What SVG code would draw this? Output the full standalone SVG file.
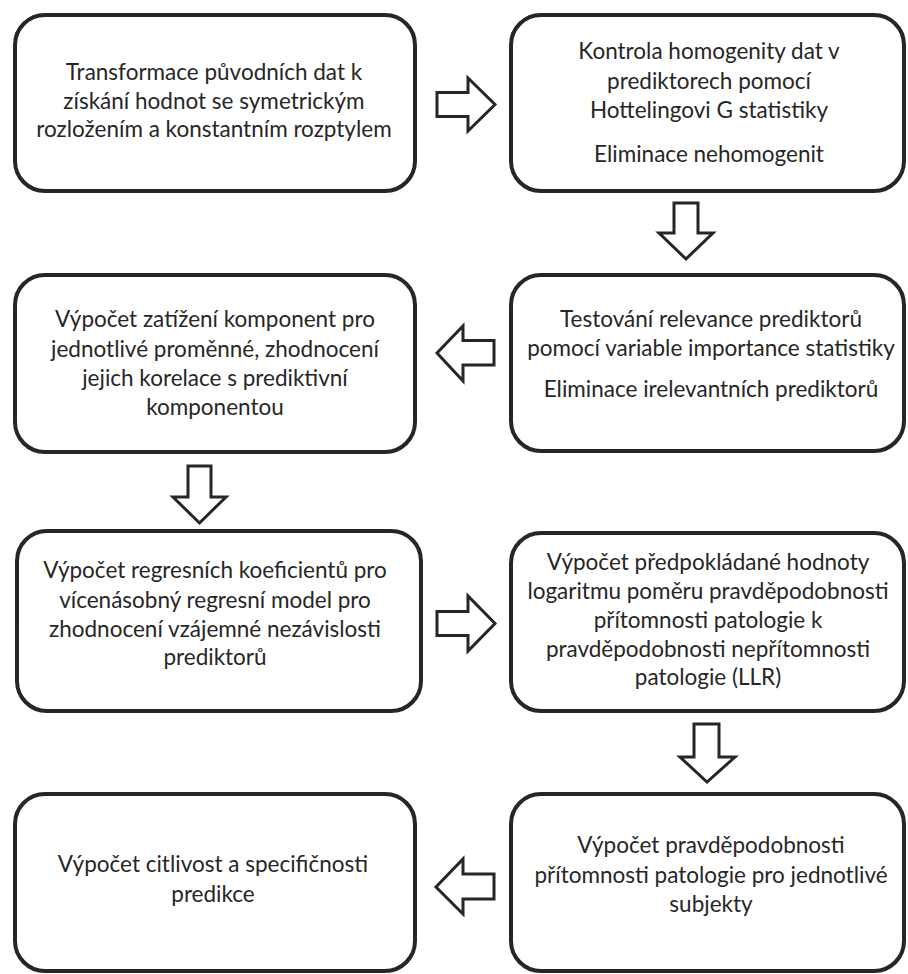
<svg xmlns="http://www.w3.org/2000/svg" width="908" height="974" viewBox="0 0 908 974">
<style>
.box{fill:#fff;stroke:#262626;stroke-width:4}
.arr{fill:#fff;stroke:#262626;stroke-width:3;stroke-linejoin:miter}
text{font-family:Lato,"Liberation Sans",sans-serif;font-size:22.5px;fill:#262626;text-anchor:middle}
</style>
<rect width="908" height="974" fill="#fff"/>
<g id="connectors">
<polygon class="arr" points="437,92.5 468,92.5 468,78 495,104.5 468,131 468,116.5 437,116.5"/>
<polygon class="arr" points="674,203 698,203 698,233 713,233 686,259 659,233 674,233"/>
<polygon class="arr" points="494,340.5 463,340.5 463,326 437,353 463,381 463,365 494,365"/>
<polygon class="arr" points="188,466 211,466 211,497 226,497 199.5,523 173,497 188,497"/>
<polygon class="arr" points="437,611.5 468,611.5 468,596 495,623.5 468,651 468,635.5 437,635.5"/>
<polygon class="arr" points="694,724 719,724 719,757 735,757 707,782 680,757 694,757"/>
<polygon class="arr" points="494,874 463,874 463,859 436,887 463,914 463,899 494,899"/>
</g>
<g id="n1">
<rect class="box" x="15" y="15" width="400" height="176" rx="30"/>
<text x="214" y="80">Transformace původních dat k</text>
<text x="214" y="109">získání hodnot se symetrickým</text>
<text x="214" y="137">rozložením a konstantním rozptylem</text>
</g>
<g id="n2">
<rect class="box" x="511" y="15" width="393" height="176" rx="30"/>
<text x="709" y="59">Kontrola homogenity dat v</text>
<text x="709" y="89">prediktorech pomocí</text>
<text x="709" y="118">Hottelingovi G statistiky</text>
<text x="709" y="162">Eliminace nehomogenit</text>
</g>
<g id="n3">
<rect class="box" x="15" y="275" width="400" height="177" rx="30"/>
<text x="215" y="327">Výpočet zatížení komponent pro</text>
<text x="215" y="357">jednotlivé proměnné, zhodnocení</text>
<text x="215" y="386">jejich korelace s prediktivní</text>
<text x="215" y="415">komponentou</text>
</g>
<g id="n4">
<rect class="box" x="511" y="275" width="393" height="176" rx="30"/>
<text x="711" y="327">Testování relevance prediktorů</text>
<text x="711" y="356">pomocí variable importance statistiky</text>
<text x="711" y="397">Eliminace irelevantních prediktorů</text>
</g>
<g id="n5">
<rect class="box" x="17" y="531" width="404" height="180" rx="30"/>
<text x="215" y="578">Výpočet regresních koeficientů pro</text>
<text x="215" y="608">vícenásobný regresní model pro</text>
<text x="215" y="637">zhodnocení vzájemné nezávislosti</text>
<text x="215" y="665">prediktorů</text>
</g>
<g id="n6">
<rect class="box" x="511" y="533" width="393" height="178" rx="30"/>
<text x="708" y="570">Výpočet předpokládané hodnoty</text>
<text x="708" y="599">logaritmu poměru pravděpodobnosti</text>
<text x="708" y="628">přítomnosti patologie k</text>
<text x="708" y="657">pravděpodobnosti nepřítomnosti</text>
<text x="708" y="685">patologie (LLR)</text>
</g>
<g id="n7">
<rect class="box" x="15" y="794" width="400" height="177" rx="30"/>
<text x="213" y="872">Výpočet citlivost a specifičnosti</text>
<text x="213" y="902">predikce</text>
</g>
<g id="n8">
<rect class="box" x="511" y="794" width="393" height="177" rx="30"/>
<text x="711" y="853">Výpočet pravděpodobnosti</text>
<text x="711" y="883">přítomnosti patologie pro jednotlivé</text>
<text x="711" y="912">subjekty</text>
</g>
</svg>
